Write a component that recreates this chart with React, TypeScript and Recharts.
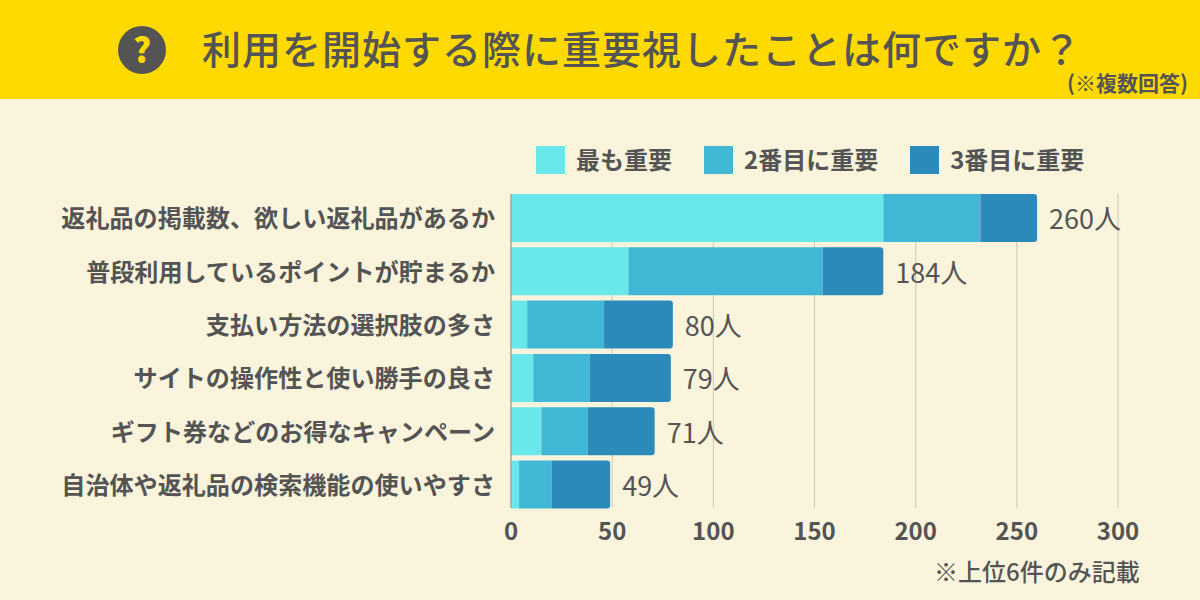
import { BarChart, Bar, XAxis, YAxis, CartesianGrid, Legend, LabelList } from 'recharts'

const categories = [
  '返礼品の掲載数、欲しい返礼品があるか',
  '普段利用しているポイントが貯まるか',
  '支払い方法の選択肢の多さ',
  'サイトの操作性と使い勝手の良さ',
  'ギフト券などのお得なキャンペーン',
  '自治体や返礼品の検索機能の使いやすさ',
]
const first = [184, 58, 8, 11, 15, 4]
const second = [48, 96, 38, 28, 23, 16]
const third = [28, 30, 34, 40, 33, 29]
const totals = [260, 184, 80, 79, 71, 49]
const xTicks = [0, 50, 100, 150, 200, 250, 300]

const data = categories.map((name, i) => ({
  name,
  first: first[i],
  second: second[i],
  third: third[i],
  total: totals[i],
}))

const FONT = '"Noto Sans CJK JP", "Noto Sans", sans-serif'
const INK = '#545454'

function LegendRow({ payload }: any) {
  return (
    <div style={{ display: 'flex', gap: 32, fontFamily: FONT }}>
      {(payload || []).map((p: any) => (
        <div key={p.value} style={{ display: 'flex', alignItems: 'center', gap: 11 }}>
          <span style={{ width: 29, height: 28, background: p.color, display: 'block' }} />
          <span style={{ fontSize: 24, fontWeight: 700, color: INK, lineHeight: '26px', marginTop: -2 }}>{p.value}</span>
        </div>
      ))}
    </div>
  )
}

export default function App() {
  return (
    <div style={{ position: 'absolute', left: 0, top: 0, width: 1200, height: 600, background: '#FBF4DC', overflow: 'hidden', fontFamily: FONT }}>
      <div style={{ position: 'absolute', left: 0, top: 0, width: 1200, height: 99, background: '#FFDA00' }} />
      <div style={{ position: 'absolute', left: 118, top: 26, width: 48, height: 48, borderRadius: 24, background: INK, color: '#FFDA00', fontSize: 34, fontWeight: 900, lineHeight: '46px', textAlign: 'center' }}>?</div>
      <div style={{ position: 'absolute', left: 202, top: 21, fontSize: 39, fontWeight: 500, letterSpacing: 1, lineHeight: '52px', color: INK, whiteSpace: 'nowrap' }}>
        利用を開始する際に重要視したことは何ですか？
      </div>
      <div style={{ position: 'absolute', left: 1067, top: 68, fontSize: 21, fontWeight: 700, lineHeight: '28px', color: INK, whiteSpace: 'nowrap' }}>
        (※複数回答)
      </div>
      <div style={{ position: 'absolute', left: 934, top: 555, fontSize: 24, fontWeight: 500, lineHeight: '32px', color: INK, whiteSpace: 'nowrap' }}>
        ※上位6件のみ記載
      </div>
      <div style={{ position: 'absolute', left: 0, top: 0 }}>
        <BarChart
          width={1200}
          height={600}
          data={data}
          layout="vertical"
          barCategoryGap={2.9}
          margin={{ top: 194, right: 82, bottom: 0, left: 0 }}
        >
          <CartesianGrid horizontal={false} stroke="#CFC9B5" strokeWidth={1} />
          <XAxis
            type="number"
            domain={[0, 300]}
            ticks={xTicks}
            height={92}
            axisLine={false}
            tickLine={false}
            tickMargin={9}
            tick={{ fontSize: 24, fontWeight: 700, fill: INK, fontFamily: FONT }}
          />
          <YAxis
            type="category"
            dataKey="name"
            width={511}
            padding={{ top: -3, bottom: -3 }}
            axisLine={{ stroke: '#9A9488', strokeWidth: 1 }}
            tickLine={false}
            tickMargin={10}
            interval={0}
            tick={{ fontSize: 24.1, fontWeight: 700, fill: INK, fontFamily: FONT, dy: 1 }}
          />
          <Legend
            layout="horizontal"
            verticalAlign="middle"
            itemSorter={null}
            content={<LegendRow />}
            wrapperStyle={{ top: 146, left: 536, width: 'auto' }}
          />
          <Bar dataKey="first" name="最も重要" stackId="a" fill="#6AE7EA" isAnimationActive={false} />
          <Bar dataKey="second" name="2番目に重要" stackId="a" fill="#41B7D6" isAnimationActive={false} />
          <Bar dataKey="third" name="3番目に重要" stackId="a" fill="#2C8ABA" radius={[0, 3, 3, 0]} isAnimationActive={false}>
            <LabelList
              dataKey="total"
              position="right"
              offset={12}
              dy={2}
              formatter={(v: any) => `${v}人`}
              style={{ fontSize: 27, fill: INK, fontFamily: FONT, fontWeight: 400 }}
            />
          </Bar>
        </BarChart>
      </div>
    </div>
  )
}
